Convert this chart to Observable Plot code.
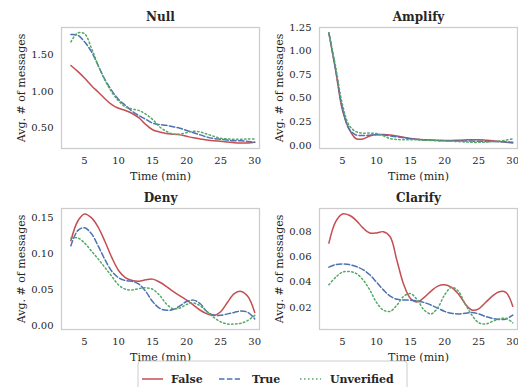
<!DOCTYPE html>
<html>
<head>
<meta charset="utf-8">
<script src="https://cdn.jsdelivr.net/npm/d3@7"></script>
<script src="https://cdn.jsdelivr.net/npm/@observablehq/plot@0.6"></script>
<style>
html, body { margin: 0; padding: 0; background: #fff; overflow: hidden; }
#root { position: relative; width: 518px; height: 387px; font-family: "DejaVu Serif", serif; }
#root > svg, #root > .panel { position: absolute; }
.panel svg { overflow: visible; }
</style>
</head>
<body>
<div id="root"></div>
<script>
// ---- data ----
const time = [3,4,5,6,7,8,9,10,11,12,13,14,15,16,17,18,19,20,21,22,23,24,25,26,27,28,29,30];
const statuses = ["False", "True", "Unverified"];
const xTicks = [5, 10, 15, 20, 25, 30];

const nullFalse = [1.35,1.27,1.18,1.08,0.99,0.90,0.82,0.77,0.74,0.70,0.64,0.55,0.48,0.45,0.43,0.42,0.41,0.39,0.37,0.355,0.34,0.33,0.325,0.315,0.305,0.30,0.30,0.31];
const nullTrue = [1.77,1.76,1.67,1.54,1.35,1.16,1.01,0.89,0.81,0.73,0.67,0.62,0.57,0.55,0.54,0.52,0.50,0.47,0.44,0.41,0.38,0.36,0.35,0.34,0.33,0.33,0.32,0.31];
const nullUnverified = [1.67,1.79,1.78,1.59,1.35,1.15,0.99,0.87,0.79,0.76,0.74,0.69,0.62,0.52,0.46,0.42,0.42,0.44,0.46,0.45,0.42,0.39,0.365,0.355,0.35,0.35,0.355,0.355];
const nullTicks = [0.5, 1.0, 1.5];

const amplifyFalse = [1.19,0.79,0.37,0.17,0.07,0.068,0.10,0.115,0.115,0.11,0.098,0.085,0.072,0.065,0.06,0.056,0.053,0.051,0.052,0.055,0.058,0.06,0.059,0.055,0.05,0.042,0.033,0.025];
const amplifyTrue = [1.19,0.80,0.39,0.17,0.11,0.105,0.107,0.112,0.11,0.10,0.09,0.08,0.07,0.063,0.058,0.055,0.052,0.05,0.048,0.047,0.046,0.045,0.043,0.042,0.04,0.038,0.036,0.034];
const amplifyUnverified = [1.19,0.83,0.43,0.21,0.145,0.13,0.13,0.125,0.10,0.072,0.062,0.06,0.06,0.058,0.055,0.052,0.048,0.045,0.043,0.04,0.036,0.032,0.032,0.035,0.04,0.045,0.055,0.07];
const amplifyTicks = [0, 0.25, 0.5, 0.75, 1.0, 1.25];

const denyFalse = [0.118,0.145,0.155,0.150,0.137,0.117,0.095,0.077,0.067,0.063,0.062,0.064,0.065,0.061,0.055,0.048,0.042,0.036,0.029,0.022,0.017,0.015,0.020,0.033,0.045,0.048,0.041,0.019];
const denyTrue = [0.111,0.132,0.136,0.128,0.111,0.092,0.076,0.067,0.063,0.062,0.058,0.048,0.034,0.025,0.022,0.023,0.028,0.034,0.036,0.031,0.020,0.015,0.015,0.017,0.019,0.021,0.019,0.010];
const denyUnverified = [0.122,0.122,0.115,0.104,0.093,0.081,0.069,0.057,0.051,0.050,0.052,0.053,0.051,0.043,0.031,0.024,0.025,0.030,0.032,0.028,0.020,0.012,0.006,0.003,0.003,0.004,0.008,0.015];
const denyTicks = [0, 0.05, 0.10, 0.15];

const clarifyFalse = [0.071,0.088,0.094,0.093,0.089,0.083,0.079,0.079,0.080,0.076,0.057,0.038,0.027,0.0245,0.028,0.033,0.037,0.038,0.036,0.031,0.023,0.018,0.019,0.024,0.029,0.0325,0.032,0.021];
const clarifyTrue = [0.052,0.054,0.0545,0.054,0.0525,0.050,0.046,0.040,0.034,0.029,0.0265,0.026,0.0258,0.0252,0.024,0.022,0.0195,0.017,0.0155,0.015,0.0155,0.016,0.015,0.013,0.0115,0.0105,0.011,0.014];
const clarifyUnverified = [0.038,0.044,0.048,0.0485,0.047,0.042,0.034,0.024,0.018,0.017,0.022,0.029,0.031,0.026,0.018,0.015,0.020,0.030,0.036,0.033,0.023,0.014,0.008,0.007,0.009,0.011,0.0115,0.008];
const clarifyTicks = [0.02, 0.04, 0.06, 0.08];

// ---- styling ----
const colors = {False: "#c44e52", True: "#4c72b0", Unverified: "#55a868"};
const dashes = {False: null, True: "5.5,2.4", Unverified: "1.5,2.5"};
const textColor = "#262626";
const frameW = 198, frameH = 121;
const xDomain = [1.62, 30.7];

const panels = [
  {title: "Null", data: [nullFalse, nullTrue, nullUnverified], ticks: nullTicks, left: 0, top: 0, mr: 3},
  {title: "Amplify", data: [amplifyFalse, amplifyTrue, amplifyUnverified], ticks: amplifyTicks, left: 258, top: 0, mr: 1},
  {title: "Deny", data: [denyFalse, denyTrue, denyUnverified], ticks: denyTicks, left: 0, top: 181, mr: 3},
  {title: "Clarify", data: [clarifyFalse, clarifyTrue, clarifyUnverified], ticks: clarifyTicks, left: 258, top: 181, mr: 1}
];

const root = document.getElementById("root");

for (const p of panels) {
  const rows = [];
  p.data.forEach((vals, si) => {
    vals.forEach((v, i) => rows.push({time: time[i], value: v, status: statuses[si]}));
  });
  const [lo, hi] = d3.extent(rows, d => d.value);
  const pad = (hi - lo) * 0.05;
  const ml = 61, mt = 27, mb = 33;
  const chart = Plot.plot({
    width: ml + frameW + p.mr,
    height: mt + frameH + mb,
    marginLeft: ml, marginRight: p.mr, marginTop: mt, marginBottom: mb,
    style: {fontFamily: "DejaVu Serif", fontSize: "10px", color: textColor, background: "transparent", overflow: "visible"},
    x: {domain: xDomain, ticks: xTicks, tickSize: 0, tickPadding: 8, label: null},
    y: {domain: [lo - pad, hi + pad], ticks: p.ticks, tickFormat: ".2f", tickSize: 0, tickPadding: 8, label: null},
    marks: [
      Plot.frame({stroke: "#cccccc", strokeWidth: 1.25}),
      ...statuses.map(s => Plot.line(rows.filter(d => d.status === s), {
        x: "time", y: "value", stroke: colors[s], strokeWidth: 1.5,
        strokeDasharray: dashes[s], curve: "catmull-rom"
      })),
      Plot.text([p.title], {text: d => d, frameAnchor: "top", dy: -10, lineAnchor: "middle", fontWeight: "bold", fontSize: 12, fill: textColor}),
      Plot.text(["Time (min)"], {text: d => d, frameAnchor: "bottom", dy: 28, lineAnchor: "middle", fontSize: 11, fill: textColor}),
      Plot.text(["Avg. # of messages"], {text: d => d, frameAnchor: "left", dx: -40, rotate: -90, textAnchor: "middle", lineAnchor: "middle", fontSize: 11, fill: textColor})
    ]
  });
  const wrap = document.createElement("div");
  wrap.className = "panel";
  wrap.style.left = p.left + "px";
  wrap.style.top = p.top + "px";
  wrap.appendChild(chart);
  root.appendChild(wrap);
}

// ---- legend ----
const legendItems = [
  {label: "False", x0: 4, tx: 33},
  {label: "True", x0: 81, tx: 114},
  {label: "Unverified", x0: 162, tx: 192}
];
const legend = d3.create("svg")
  .attr("width", 272).attr("height", 32)
  .style("left", "137px").style("top", "360px")
  .style("font-family", "DejaVu Serif");
legend.append("rect")
  .attr("x", 1).attr("y", 1).attr("width", 269).attr("height", 34)
  .attr("rx", 3).attr("fill", "#fff").attr("stroke", "#cccccc").attr("stroke-width", 1);
legendItems.forEach((it, i) => {
  const s = statuses[i];
  legend.append("line")
    .attr("x1", it.x0 + 1).attr("x2", it.x0 + 22).attr("y1", 19).attr("y2", 19)
    .attr("stroke", colors[s]).attr("stroke-width", 1.5)
    .attr("stroke-dasharray", dashes[s]);
  legend.append("text")
    .attr("x", it.tx + 1).attr("y", 19).attr("dy", "0.35em")
    .attr("font-size", 11).attr("font-weight", "bold").attr("fill", textColor)
    .text(it.label);
});
root.appendChild(legend.node());
</script>
</body>
</html>
